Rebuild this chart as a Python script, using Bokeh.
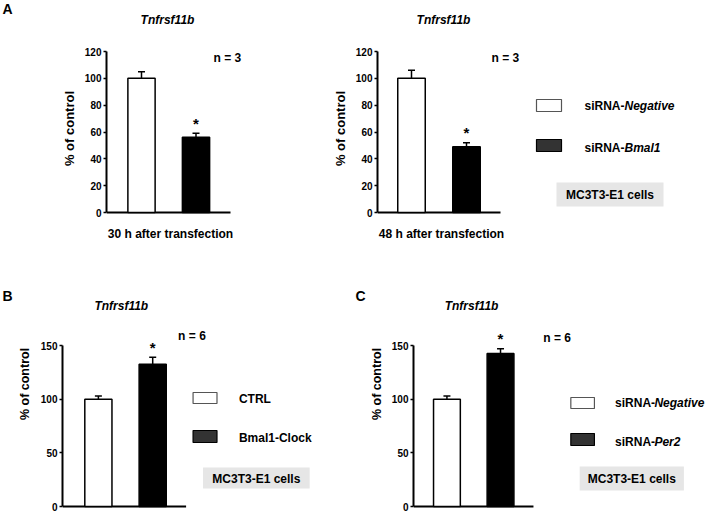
from bokeh.plotting import figure
from bokeh.models import Range1d, Label, Whisker, TeeHead, ColumnDataSource, FixedTicker
from bokeh.layouts import row, column
from bokeh.embed import file_html
from bokeh.resources import INLINE

FONT = "Liberation Sans"

# ---------------- data ----------------
groups = ["control", "treated"]
bar_colors = ["white", "black"]
a30_mean = [100, 56]
a30_sem = [5, 3]
a48_mean = [100, 49]
a48_sem = [6, 3]
b_mean = [100, 132.5]
b_sem = [3, 6.5]
c_mean = [100, 142.5]
c_sem = [3, 4.5]
significant = [False, True]
ticks_a = [0, 20, 40, 60, 80, 100, 120]
ticks_bc = [0, 50, 100, 150]
gene = "Tnfrsf11b"
ylabel = "% of control"
xlabel_a1 = "30 h after transfection"
xlabel_a2 = "48 h after transfection"
n_a = "n = 3"
n_bc = "n = 6"
legend_a = [("siRNA-", "Negative"), ("siRNA-", "Bmal1")]
legend_b = [("CTRL", ""), ("Bmal1-Clock", "")]
legend_c = [("siRNA-", "Negative"), ("siRNA-", "Per2")]
cell_line = "MC3T3-E1 cells"
swatch_fill = ["white", "#333333"]
swatch_line = ["#555555", "black"]


def style_fig(p, frame_box):
    l, t, r, b = frame_box
    p.extra_x_ranges = {"px": Range1d(l, r)}
    p.extra_y_ranges = {"py": Range1d(b, t)}
    p.grid.visible = False
    p.outline_line_color = None
    p.background_fill_color = "white"
    p.border_fill_color = "white"
    return p


def blank_fig(page_box):
    x0, y0, x1, y1 = page_box
    p = figure(width=x1 - x0, height=y1 - y0, x_range=Range1d(x0, x1), y_range=Range1d(y1, y0),
               output_backend="svg", toolbar_location=None,
               x_axis_location=None, y_axis_location=None,
               min_border_left=0, min_border_right=0, min_border_top=0, min_border_bottom=0)
    return style_fig(p, page_box)


def lab(p, x, y, text, size="12px", style="bold", align="left", baseline="middle"):
    p.add_layout(Label(x=x, y=y, text=text, x_range_name="px", y_range_name="py",
                       text_font=FONT, text_font_size=size, text_font_style=style,
                       text_align=align, text_baseline=baseline, text_color="black"))


def add_legend(p, items, box_x, box_ys, text_x, text_ys, cells_box, italic_dx=40):
    p.quad(left=[box_x[0]] * 2, right=[box_x[1]] * 2,
           top=[y[0] for y in box_ys], bottom=[y[1] for y in box_ys],
           fill_color=swatch_fill, line_color=swatch_line, line_width=1.2,
           x_range_name="px", y_range_name="py")
    for (plain, ital), ty in zip(items, text_ys):
        lab(p, text_x, ty, plain)
        if ital:
            lab(p, text_x + italic_dx, ty, ital, style="bold italic")
    cl, cr, ct, cb = cells_box
    p.quad(left=[cl], right=[cr], top=[ct], bottom=[cb], fill_color="#e6e6e6",
           line_color=None, x_range_name="px", y_range_name="py")
    lab(p, (cl + cr) / 2, (ct + cb) / 2 + 0.5, cell_line, align="center")


def bar_panel(page_box, frame_l, cx1, unit, zero_px, top_px, ymax, ticks, means, sems,
              base_end_px, title_xy, n_xy, n_text, xlabel=None, xlabel_xy=None,
              ylabel_size="13px", ylabel_standoff=5):
    x0, y0, x1, y1 = page_box
    xr = Range1d(1 + (frame_l - cx1) / unit, 1 + (x1 - cx1) / unit)
    k = (zero_px - top_px) / ymax
    yr = Range1d((zero_px - y1) / k, (zero_px - y0) / k)
    p = figure(width=x1 - x0, height=y1 - y0, x_range=xr, y_range=yr,
               output_backend="svg", toolbar_location=None,
               x_axis_location=None, y_axis_location="left",
               min_border_left=frame_l - x0, min_border_right=0,
               min_border_top=0, min_border_bottom=0)
    style_fig(p, (frame_l, y0, x1, y1))

    xs = list(range(1, len(means) + 1))
    upper = [m + s for m, s in zip(means, sems)]
    src = ColumnDataSource(dict(x=xs, top=means, upper=upper, color=bar_colors))
    # baseline (x axis line)
    p.segment(x0=[xr.start], y0=[0], x1=[1 + (base_end_px - cx1) / unit], y1=[0],
              line_color="black", line_width=2)
    p.vbar(x="x", top="top", bottom=0, width=0.5, source=src, fill_color="color",
           line_color="black", line_width=1.5)
    p.add_layout(Whisker(source=src, base="x", upper="upper", lower="top",
                         upper_head=TeeHead(size=7, line_color="black", line_width=1.5),
                         lower_head=None, line_color="black", line_width=1.5))
    for x, u, sig in zip(xs, upper, significant):
        if sig:
            p.add_layout(Label(x=x, y=u, y_offset=10, text="*", text_font=FONT,
                               text_font_size="15px", text_font_style="bold",
                               text_align="center", text_baseline="alphabetic",
                               text_color="black"))
    ya = p.yaxis[0]
    ya.bounds = (0, ymax)
    ya.ticker = FixedTicker(ticks=ticks)
    ya.axis_line_width = 2
    ya.axis_line_color = "black"
    ya.major_tick_out = 3
    ya.major_tick_in = 0
    ya.major_tick_line_width = 1.5
    ya.minor_tick_line_color = None
    ya.major_label_text_font = FONT
    ya.major_label_text_font_style = "bold"
    ya.major_label_text_font_size = "10px"
    ya.major_label_text_color = "black"
    ya.major_label_standoff = 2
    ya.axis_label = ylabel
    ya.axis_label_text_font = FONT
    ya.axis_label_text_font_style = "bold"
    ya.axis_label_text_font_size = ylabel_size
    ya.axis_label_text_color = "black"
    ya.axis_label_standoff = ylabel_standoff

    lab(p, title_xy[0], title_xy[1], gene, style="bold italic", align="center")
    lab(p, n_xy[0], n_xy[1], n_text)
    if xlabel:
        lab(p, xlabel_xy[0], xlabel_xy[1], xlabel, align="center")
    return p


# ---------------- row 1: panel A ----------------
letA = blank_fig((0, 0, 14, 256))
lab(letA, 2, 8, "A", size="14px")

a1 = bar_panel((14, 0, 290, 256), 106, 141, 54.5, 212, 51, 120, ticks_a,
               a30_mean, a30_sem, 230, (167, 19), (213, 57), n_a,
               xlabel=xlabel_a1, xlabel_xy=(170, 233))

a2 = bar_panel((290, 0, 520, 256), 377, 411, 55, 212, 51, 120, ticks_a,
               a48_mean, a48_sem, 500, (443, 19), (491, 57), n_a,
               xlabel=xlabel_a2, xlabel_xy=(441, 233))

lega = blank_fig((520, 0, 708, 256))
add_legend(lega, legend_a, (536, 561), [(99, 111), (139, 151)], 584, [105, 147],
           (556, 663, 182, 206))

# ---------------- row 2: panels B and C ----------------
letB = blank_fig((0, 256, 14, 511))
lab(letB, 2, 295, "B", size="14px")

b = bar_panel((14, 256, 366, 511), 61, 97, 54.5, 506, 345, 150, ticks_bc,
              b_mean, b_sem, 185, (120, 305), (177, 335), n_bc,
              ylabel_size="12.5px", ylabel_standoff=6)
lab(b, 355, 295, "C", size="14px")
add_legend(b, legend_b, (192, 216), [(392, 403), (430, 442)], 238, [398, 437],
           (202, 309, 467, 488))

c = bar_panel((366, 256, 708, 511), 408, 442, 54.5, 506, 345, 150, ticks_bc,
              c_mean, c_sem, 530, (467, 305), (540, 337), n_bc,
              ylabel_size="12.5px", ylabel_standoff=5)
add_legend(c, legend_c, (568, 592), [(397, 408), (433, 445)], 613, [402, 441],
           (577, 683, 466, 490))

layout = column(row(letA, a1, a2, lega), row(letB, b, c))
open("out.html", "w").write(file_html(layout, INLINE))
